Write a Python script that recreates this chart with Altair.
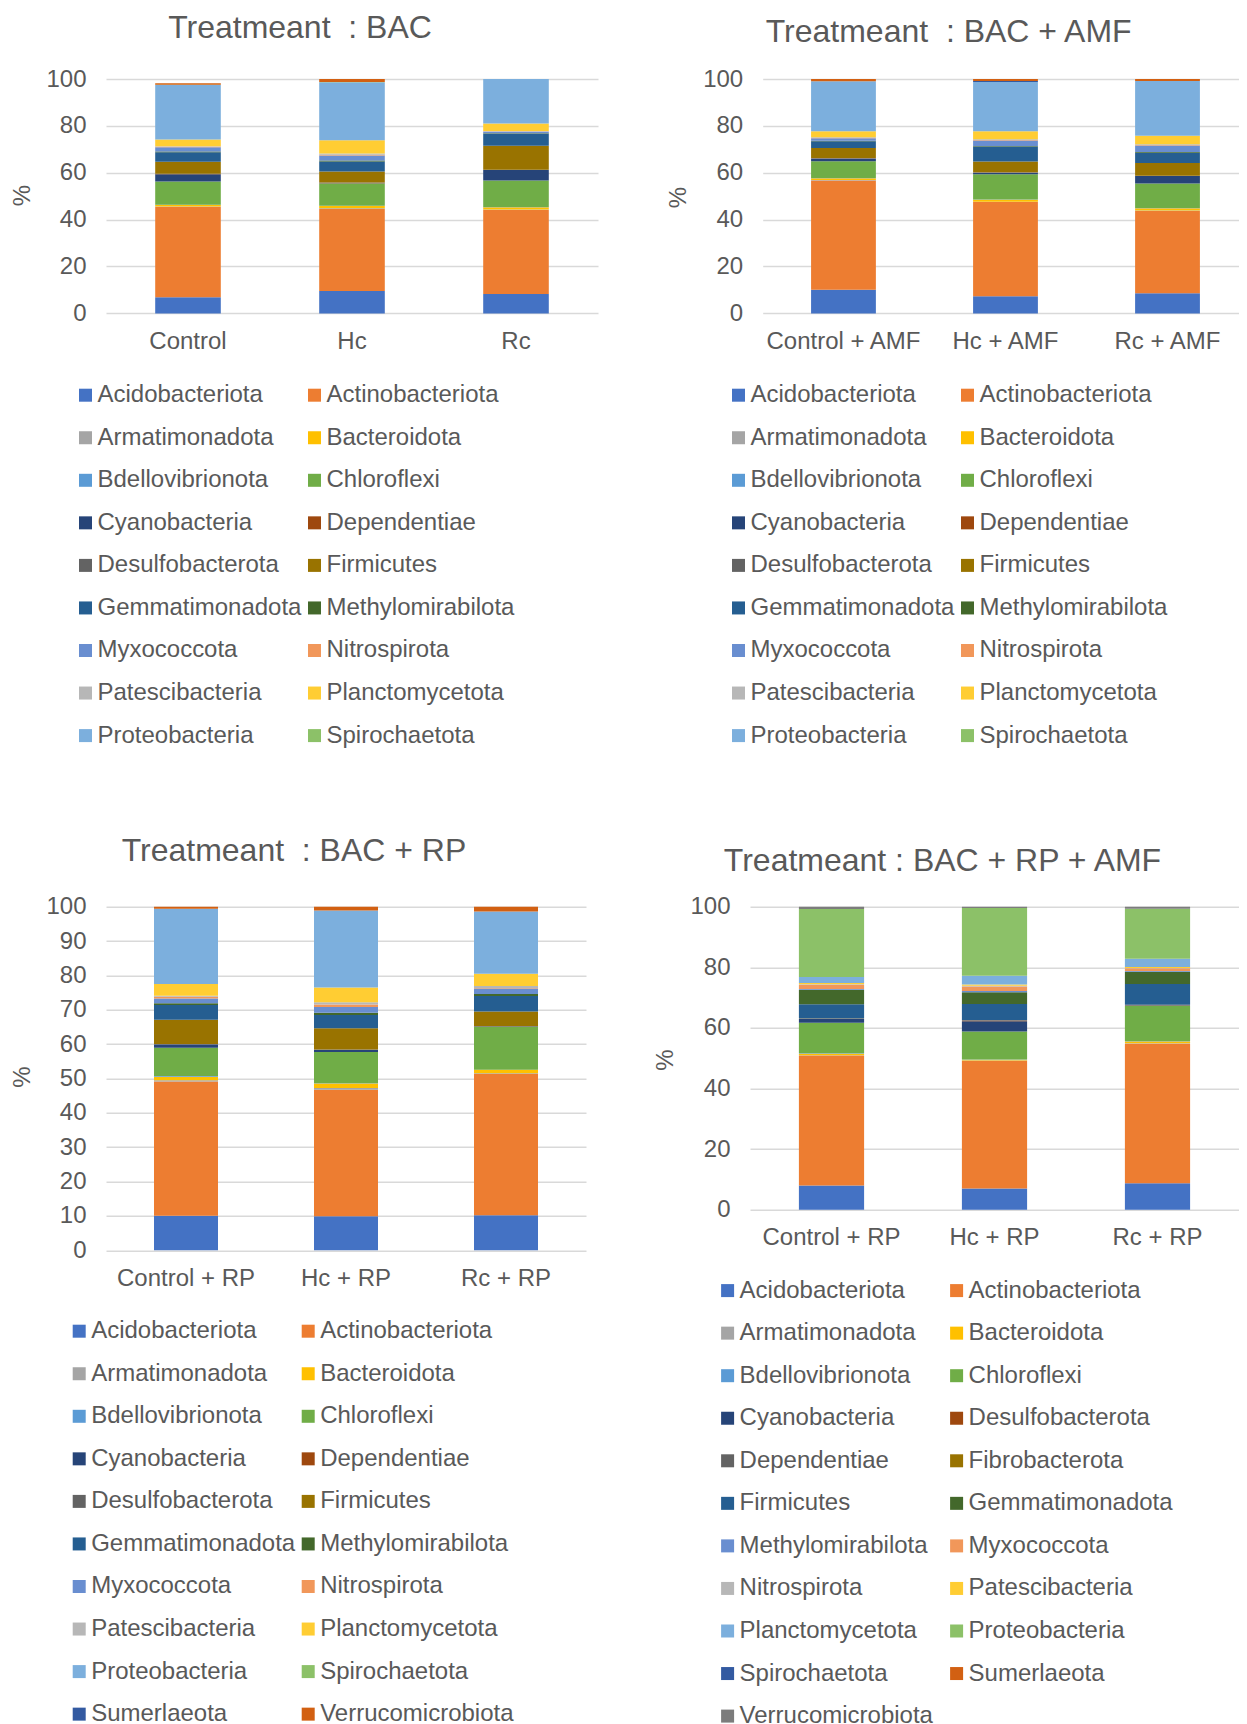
import altair as alt
import pandas as pd

FONT = "Liberation Sans"
TXT = "#595959"
GRID = "#D9D9D9"

PHYLA = ["Acidobacteriota", "Actinobacteriota", "Armatimonadota", "Bacteroidota",
         "Bdellovibrionota", "Chloroflexi", "Cyanobacteria", "Dependentiae",
         "Desulfobacterota", "Firmicutes", "Gemmatimonadota", "Methylomirabilota",
         "Myxococcota", "Nitrospirota", "Patescibacteria", "Planctomycetota",
         "Proteobacteria", "Spirochaetota", "Sumerlaeota", "Verrucomicrobiota"]

PHYLA_RP_AMF = ["Acidobacteriota", "Actinobacteriota", "Armatimonadota", "Bacteroidota",
                "Bdellovibrionota", "Chloroflexi", "Cyanobacteria", "Desulfobacterota",
                "Dependentiae", "Fibrobacterota", "Firmicutes", "Gemmatimonadota",
                "Methylomirabilota", "Myxococcota", "Nitrospirota", "Patescibacteria",
                "Planctomycetota", "Proteobacteria", "Spirochaetota", "Sumerlaeota",
                "Verrucomicrobiota"]

COLORS = ["#4472C4", "#ED7D31", "#A5A5A5", "#FFC000", "#5B9BD5", "#70AD47",
          "#264478", "#9E480E", "#636363", "#997300", "#255E91", "#43682B",
          "#698ED0", "#F1975A", "#B7B7B7", "#FFCD33", "#7CAFDD", "#8CC168",
          "#335AA1", "#D26012", "#7C7C7C"]

# Treatment: BAC
BAC_SAMPLES = ["Control", "Hc", "Rc"]
BAC_CONTROL = [6.9, 38.5, 0.2, 0.7, 0.1, 9.9, 3.1, 0.1, 0.1, 5.1, 4.1, 0.3, 1.8, 0.2, 0.2, 2.9, 23.3, 0.1, 0.0, 0.6]
BAC_HC = [9.6, 35.0, 0.3, 0.9, 0.1, 9.5, 0.2, 0.1, 0.2, 4.7, 4.2, 0.5, 2.1, 0.3, 0.5, 5.7, 24.8, 0.1, 0.0, 1.2]
BAC_RC = [8.3, 35.8, 0.2, 1.0, 0.1, 11.3, 4.5, 0.0, 0.1, 10.3, 5.1, 0.2, 0.6, 0.1, 0.2, 3.2, 19.0, 0.0, 0.0, 0.0]

# Treatment: BAC + AMF
AMF_SAMPLES = ["Control + AMF", "Hc + AMF", "Rc + AMF"]
AMF_CONTROL = [10.1, 46.6, 0.2, 0.8, 0.1, 7.1, 1.1, 0.1, 0.2, 4.3, 2.9, 0.2, 1.1, 0.1, 0.3, 2.5, 21.4, 0.0, 0.0, 0.9]
AMF_HC = [7.3, 40.2, 0.2, 0.8, 0.1, 10.8, 0.6, 0.1, 0.1, 4.6, 6.2, 0.3, 2.5, 0.2, 0.3, 3.4, 21.1, 0.0, 0.4, 0.8]
AMF_RC = [8.6, 35.1, 0.2, 1.0, 0.1, 10.4, 3.2, 0.1, 0.1, 5.4, 4.4, 0.3, 2.8, 0.2, 0.3, 3.6, 23.4, 0.0, 0.0, 0.8]

# Treatment: BAC + RP
RP_SAMPLES = ["Control + RP", "Hc + RP", "Rc + RP"]
RP_CONTROL = [10.0, 39.1, 0.4, 1.0, 0.2, 8.2, 1.0, 0.0, 0.1, 7.1, 4.3, 0.5, 1.4, 0.5, 0.3, 3.4, 21.9, 0.0, 0.0, 0.6]
RP_HC = [9.9, 36.8, 0.5, 1.3, 0.1, 9.1, 0.6, 0.0, 0.1, 6.2, 3.9, 0.6, 1.7, 0.7, 0.7, 4.3, 22.4, 0.0, 0.0, 1.1]
RP_RC = [10.2, 41.1, 0.2, 1.0, 0.0, 12.5, 0.1, 0.0, 0.1, 4.3, 4.5, 0.6, 1.6, 0.1, 0.6, 3.6, 18.1, 0.0, 0.0, 1.4]

# Treatment: BAC + RP + AMF
RPAMF_SAMPLES = ["Control + RP", "Hc + RP", "Rc + RP"]
RPAMF_CONTROL = [8.0, 42.9, 0.1, 0.5, 0.1, 10.1, 1.2, 0.1, 0.0, 0.1, 4.7, 4.8, 0.2, 1.4, 0.2, 0.4, 2.0, 22.4, 0.0, 0.0, 0.8]
RPAMF_HC = [7.0, 42.1, 0.1, 0.3, 0.1, 9.2, 3.4, 0.2, 0.1, 0.0, 5.4, 3.9, 0.4, 1.5, 0.2, 0.4, 2.9, 22.4, 0.0, 0.0, 0.4]
RPAMF_RC = [8.7, 46.1, 0.1, 0.6, 0.1, 11.7, 0.2, 0.1, 0.0, 0.0, 6.9, 4.0, 0.3, 0.9, 0.1, 0.3, 2.7, 16.5, 0.0, 0.0, 0.7]


def panel(title, samples, series, phyla, legend_n, width, height, y_values,
          title_offset, axis_title_x, axis_title_y, legend_x, legend_y, col_pad,
          pad_outer=0.3, band_align=0.5):
    rows = []
    for s, vals in zip(samples, series):
        for i, (p, v) in enumerate(zip(phyla, vals)):
            rows.append({"sample": s, "phylum": p, "value": v, "idx": i})
    df = pd.DataFrame(rows)
    return alt.Chart(df, title=alt.TitleParams(
        text=title, fontSize=32, font=FONT, color=TXT, fontWeight="normal",
        anchor="middle", frame="group", dx=-52, offset=title_offset, baseline="middle",
    )).mark_bar().encode(
        x=alt.X("sample:N", sort=samples,
                scale=alt.Scale(paddingInner=0.6, paddingOuter=pad_outer, align=band_align),
                axis=alt.Axis(title=None, labelAngle=0, labelPadding=16.3, labelFontSize=24,
                              labelFont=FONT, labelColor=TXT, domain=False, ticks=False,
                              tickSize=0, grid=False)),
        y=alt.Y("value:Q", stack="zero",
                scale=alt.Scale(domain=[0, 100], nice=False, zero=True),
                axis=alt.Axis(values=y_values, title="%", titleFontSize=24, titleFont=FONT,
                              titleColor=TXT, titleFontWeight="normal", titleAngle=270,
                              titleX=axis_title_x, titleY=axis_title_y, titleAlign="center",
                              titleBaseline="middle",
                              labelPadding=20, labelFontSize=24, labelFont=FONT,
                              labelColor=TXT, domain=False, ticks=False, tickSize=0,
                              grid=True, gridColor=GRID, gridWidth=1.5)),
        color=alt.Color("phylum:N",
                        scale=alt.Scale(domain=phyla, range=COLORS[:len(phyla)]),
                        legend=alt.Legend(values=phyla[:legend_n], title=None, orient="none",
                                          direction="horizontal",
                                          legendX=legend_x, legendY=legend_y, columns=2,
                                          symbolType="square", symbolSize=169,
                                          symbolStrokeWidth=0, labelFontSize=24,
                                          labelFont=FONT, labelColor=TXT, labelLimit=400,
                                          labelOffset=0, rowPadding=18.55, columnPadding=col_pad,
                                          padding=0)),
        order=alt.Order("idx:Q", sort="ascending"),
    ).properties(width=width, height=height)


NB = "\u00a0"
tl = panel(f"Treatmeant{NB}{NB}: BAC", BAC_SAMPLES, [BAC_CONTROL, BAC_HC, BAC_RC], PHYLA, 18,
           492, 234.3, [0, 20, 40, 60, 80, 100], 7.0, -84, 116, -32.5, 304.1, 0)
tr = panel(f"Treatmeant{NB}{NB}: BAC + AMF", AMF_SAMPLES, [AMF_CONTROL, AMF_HC, AMF_RC], PHYLA, 18,
           476, 234.3, [0, 20, 40, 60, 80, 100], 3.5, -84, 118, -36.2, 304.1, 0,
           pad_outer=0.269, band_align=0.555)
bl = panel(f"Treatmeant{NB}{NB}: BAC + RP", RP_SAMPLES, [RP_CONTROL, RP_HC, RP_RC], PHYLA, 20,
           480, 343.5, list(range(0, 101, 10)), 11.6, -84, 170, -38.8, 412.5, 0)
br = panel("Treatmeant : BAC + RP + AMF", RPAMF_SAMPLES, [RPAMF_CONTROL, RPAMF_HC, RPAMF_RC],
           PHYLA_RP_AMF, 21, 489, 303, [0, 20, 40, 60, 80, 100], 2.1, -84, 153, -34.4, 371.9, 11)

row1 = alt.hconcat(tl, tr, spacing=164.7, bounds="flush").resolve_scale(color="independent", x="independent", y="independent")
row2 = alt.hconcat(bl, br, spacing=164, bounds="flush").resolve_scale(color="independent", x="independent", y="independent")
chart = alt.vconcat(row1, row2, spacing=827.6, bounds="flush").resolve_scale(
    color="independent", x="independent", y="independent"
).properties(
    padding={"left": 2, "top": 4.1, "right": 0, "bottom": 0}
).configure_view(stroke=None)

chart.save("out.html", embed_options={"renderer": "svg", "actions": False})
